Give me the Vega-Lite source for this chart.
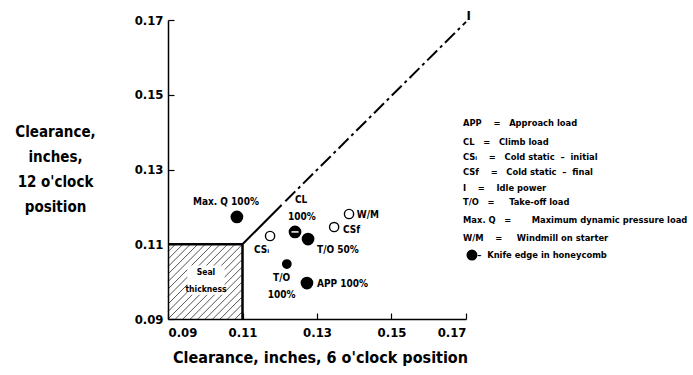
{
  "$schema": "https://vega.github.io/schema/vega-lite/v6.json",
  "autosize": "none",
  "width": 298,
  "height": 299,
  "padding": {"left": 168, "top": 20, "right": 227, "bottom": 56},
  "background": "white",
  "config": {
    "view": {"stroke": null},
    "font": "DejaVu Sans Condensed",
    "point": {"opacity": 1},
    "axis": {
      "grid": false,
      "domainColor": "black",
      "domainWidth": 1.5,
      "tickColor": "black",
      "tickWidth": 1.2,
      "tickSize": -6,
      "labelFont": "DejaVu Sans Condensed",
      "labelFontWeight": "bold",
      "labelFontSize": 13,
      "labelColor": "black",
      "titleFont": "DejaVu Sans Condensed",
      "titleFontWeight": "bold",
      "titleFontSize": 15,
      "titleColor": "black"
    }
  },
  "datasets": {
    "hatch": [
      {"x": 0.108, "y": 0.09, "x2": 0.11, "y2": 0.092},
      {"x": 0.106, "y": 0.09, "x2": 0.11, "y2": 0.094},
      {"x": 0.104, "y": 0.09, "x2": 0.11, "y2": 0.096},
      {"x": 0.102, "y": 0.09, "x2": 0.11, "y2": 0.098},
      {"x": 0.100, "y": 0.09, "x2": 0.11, "y2": 0.100},
      {"x": 0.098, "y": 0.09, "x2": 0.11, "y2": 0.102},
      {"x": 0.096, "y": 0.09, "x2": 0.11, "y2": 0.104},
      {"x": 0.094, "y": 0.09, "x2": 0.11, "y2": 0.106},
      {"x": 0.092, "y": 0.09, "x2": 0.11, "y2": 0.108},
      {"x": 0.090, "y": 0.09, "x2": 0.11, "y2": 0.110},
      {"x": 0.09, "y": 0.092, "x2": 0.108, "y2": 0.11},
      {"x": 0.09, "y": 0.094, "x2": 0.106, "y2": 0.11},
      {"x": 0.09, "y": 0.096, "x2": 0.104, "y2": 0.11},
      {"x": 0.09, "y": 0.098, "x2": 0.102, "y2": 0.11},
      {"x": 0.09, "y": 0.100, "x2": 0.100, "y2": 0.11},
      {"x": 0.09, "y": 0.102, "x2": 0.098, "y2": 0.11},
      {"x": 0.09, "y": 0.104, "x2": 0.096, "y2": 0.11},
      {"x": 0.09, "y": 0.106, "x2": 0.094, "y2": 0.11},
      {"x": 0.09, "y": 0.108, "x2": 0.092, "y2": 0.11}
    ],
    "sealbg": [
      {"x": 0.0952, "y": 0.0965, "x2": 0.1052, "y2": 0.1043}
    ],
    "box": [
      {"x": 0.09, "y": 0.11, "x2": 0.11, "y2": 0.11},
      {"x": 0.11, "y": 0.09, "x2": 0.11, "y2": 0.11}
    ],
    "diagSolid": [
      {"x": 0.11, "y": 0.11, "x2": 0.1205, "y2": 0.1205}
    ],
    "diagDash": [
      {"x": 0.1215, "y": 0.1215, "x2": 0.17, "y2": 0.1695}
    ],
    "points": [
      {"label": "Max. Q 100%", "x": 0.1085, "y": 0.1173, "kind": "knife"},
      {"label": "CL 100%", "x": 0.1241, "y": 0.1133, "kind": "knife"},
      {"label": "T/O 50%", "x": 0.1276, "y": 0.1114, "kind": "knife"},
      {"label": "CSi", "x": 0.1174, "y": 0.1122, "kind": "open"},
      {"label": "CSf", "x": 0.1346, "y": 0.1146, "kind": "open"},
      {"label": "W/M", "x": 0.1386, "y": 0.1181, "kind": "open"},
      {"label": "T/O 100%", "x": 0.1219, "y": 0.1047, "kind": "knife-small"},
      {"label": "APP 100%", "x": 0.1273, "y": 0.0996, "kind": "knife"}
    ],
    "labels": [
      {"text": "Max. Q 100%", "x": 0.0967, "y": 0.1213},
      {"text": "CL", "x": 0.1241, "y": 0.1218},
      {"text": "100%", "x": 0.1222, "y": 0.1173},
      {"text": "CSᵢ", "x": 0.1131, "y": 0.1085},
      {"text": "T/O 50%", "x": 0.1300, "y": 0.1085},
      {"text": "W/M", "x": 0.1407, "y": 0.1178},
      {"text": "CSf", "x": 0.1370, "y": 0.1138},
      {"text": "T/O", "x": 0.1182, "y": 0.1010},
      {"text": "100%", "x": 0.1168, "y": 0.0964},
      {"text": "APP 100%", "x": 0.1300, "y": 0.0994}
    ],
    "seal": [
      {"text": "Seal", "x": 0.1002, "y": 0.1026},
      {"text": "thickness", "x": 0.1002, "y": 0.0980}
    ],
    "legend": [
      {"text": "APP\u00a0\u00a0\u00a0\u00a0=\u00a0\u00a0\u00a0Approach load", "y": 0.1424},
      {"text": "CL\u00a0\u00a0\u00a0=\u00a0\u00a0\u00a0Climb load", "y": 0.1374},
      {"text": "CSᵢ\u00a0\u00a0\u00a0\u00a0=\u00a0\u00a0\u00a0Cold static\u00a0\u00a0–\u00a0\u00a0initial", "y": 0.1333},
      {"text": "CSf\u00a0\u00a0\u00a0\u00a0=\u00a0\u00a0\u00a0Cold static\u00a0\u00a0–\u00a0\u00a0final", "y": 0.1293},
      {"text": "I\u00a0\u00a0\u00a0\u00a0=\u00a0\u00a0\u00a0\u00a0Idle power", "y": 0.1250},
      {"text": "T/O\u00a0\u00a0\u00a0=\u00a0\u00a0\u00a0\u00a0\u00a0Take-off load", "y": 0.1213},
      {"text": "Max. Q\u00a0\u00a0\u00a0=\u00a0\u00a0\u00a0\u00a0\u00a0\u00a0\u00a0Maximum dynamic pressure load", "y": 0.1165},
      {"text": "W/M\u00a0\u00a0\u00a0\u00a0=\u00a0\u00a0\u00a0\u00a0\u00a0Windmill on starter", "y": 0.1117}
    ],
    "legendKnife": [
      {"text": "–\u00a0\u00a0Knife edge in honeycomb", "x": 0.1730, "y": 0.1071}
    ],
    "legendDot": [
      {"x": 0.1716, "y": 0.1071}
    ],
    "idle": [
      {"text": "I", "x": 0.1707, "y": 0.1712}
    ]
  },
  "layer": [
    {
      "data": {"name": "hatch"},
      "mark": {"type": "rule", "stroke": "black", "strokeWidth": 0.9, "opacity": 0.75},
      "encoding": {
        "x": {
          "field": "x", "type": "quantitative",
          "scale": {"domain": [0.09, 0.17], "nice": false, "zero": false},
          "axis": {
            "values": [0.09, 0.11, 0.13, 0.15, 0.17],
            "format": ".2f",
            "labelPadding": 13,
            "title": "Clearance, inches, 6 o'clock position",
            "titleX": 152,
            "titleY": 38,
            "titleBaseline": "middle",
            "titleFontSize": 16
          }
        },
        "y": {
          "field": "y", "type": "quantitative",
          "scale": {"domain": [0.09, 0.17], "nice": false, "zero": false},
          "axis": {
            "values": [0.09, 0.11, 0.13, 0.15, 0.17],
            "format": ".2f",
            "labelPadding": 11,
            "title": ["Clearance,", "inches,", "12 o'clock", "position"],
            "titleAngle": 0,
            "titleAlign": "center",
            "titleBaseline": "top",
            "titleLineHeight": 25,
            "titleX": -113,
            "titleY": 104
          }
        },
        "x2": {"field": "x2"},
        "y2": {"field": "y2"}
      }
    },
    {
      "data": {"name": "sealbg"},
      "mark": {"type": "rect", "fill": "white"},
      "encoding": {
        "x": {"field": "x", "type": "quantitative"},
        "y": {"field": "y", "type": "quantitative"},
        "x2": {"field": "x2"},
        "y2": {"field": "y2"}
      }
    },
    {
      "data": {"name": "box"},
      "mark": {"type": "rule", "stroke": "black", "strokeWidth": 2.5},
      "encoding": {
        "x": {"field": "x", "type": "quantitative"},
        "y": {"field": "y", "type": "quantitative"},
        "x2": {"field": "x2"},
        "y2": {"field": "y2"}
      }
    },
    {
      "data": {"name": "diagSolid"},
      "mark": {"type": "rule", "stroke": "black", "strokeWidth": 2},
      "encoding": {
        "x": {"field": "x", "type": "quantitative"},
        "y": {"field": "y", "type": "quantitative"},
        "x2": {"field": "x2"},
        "y2": {"field": "y2"}
      }
    },
    {
      "data": {"name": "diagDash"},
      "mark": {"type": "rule", "stroke": "black", "strokeWidth": 2, "strokeDash": [14, 4, 3, 4]},
      "encoding": {
        "x": {"field": "x", "type": "quantitative"},
        "y": {"field": "y", "type": "quantitative"},
        "x2": {"field": "x2"},
        "y2": {"field": "y2"}
      }
    },
    {
      "data": {"name": "points"},
      "transform": [{"filter": "datum.kind === 'knife'"}],
      "mark": {"type": "point", "shape": "circle", "filled": true, "fill": "black", "stroke": "black", "opacity": 1, "size": 115},
      "encoding": {
        "x": {"field": "x", "type": "quantitative"},
        "y": {"field": "y", "type": "quantitative"}
      }
    },
    {
      "data": {"name": "points"},
      "transform": [{"filter": "datum.kind === 'knife-small'"}],
      "mark": {"type": "point", "shape": "circle", "filled": true, "fill": "black", "stroke": "black", "opacity": 1, "size": 60},
      "encoding": {
        "x": {"field": "x", "type": "quantitative"},
        "y": {"field": "y", "type": "quantitative"}
      }
    },
    {
      "data": {"name": "points"},
      "transform": [{"filter": "datum.kind === 'open'"}],
      "mark": {"type": "point", "shape": "circle", "filled": false, "fill": "white", "stroke": "black", "strokeWidth": 1.4, "opacity": 1, "size": 85},
      "encoding": {
        "x": {"field": "x", "type": "quantitative"},
        "y": {"field": "y", "type": "quantitative"}
      }
    },
    {
      "data": {"name": "points"},
      "transform": [{"filter": "datum.label === 'CL 100%'"}],
      "mark": {"type": "point", "shape": "stroke", "stroke": "white", "strokeWidth": 1.5, "opacity": 1, "size": 50},
      "encoding": {
        "x": {"field": "x", "type": "quantitative"},
        "y": {"field": "y", "type": "quantitative"}
      }
    },
    {
      "data": {"name": "labels"},
      "mark": {"type": "text", "align": "left", "baseline": "middle", "font": "DejaVu Sans Condensed", "fontWeight": "bold", "fontSize": 10, "color": "black"},
      "encoding": {
        "x": {"field": "x", "type": "quantitative"},
        "y": {"field": "y", "type": "quantitative"},
        "text": {"field": "text"}
      }
    },
    {
      "data": {"name": "seal"},
      "mark": {"type": "text", "align": "center", "baseline": "middle", "font": "DejaVu Sans Condensed", "fontWeight": "bold", "fontSize": 8.5, "color": "black"},
      "encoding": {
        "x": {"field": "x", "type": "quantitative"},
        "y": {"field": "y", "type": "quantitative"},
        "text": {"field": "text"}
      }
    },
    {
      "data": {"name": "legend"},
      "mark": {"type": "text", "align": "left", "baseline": "middle", "font": "DejaVu Sans Condensed", "fontWeight": "bold", "fontSize": 9.3, "color": "black"},
      "encoding": {
        "x": {"datum": 0.1692, "type": "quantitative"},
        "y": {"field": "y", "type": "quantitative"},
        "text": {"field": "text"}
      }
    },
    {
      "data": {"name": "legendKnife"},
      "mark": {"type": "text", "align": "left", "baseline": "middle", "font": "DejaVu Sans Condensed", "fontWeight": "bold", "fontSize": 9.3, "color": "black"},
      "encoding": {
        "x": {"field": "x", "type": "quantitative"},
        "y": {"field": "y", "type": "quantitative"},
        "text": {"field": "text"}
      }
    },
    {
      "data": {"name": "legendDot"},
      "mark": {"type": "point", "shape": "circle", "filled": true, "fill": "black", "stroke": "black", "opacity": 1, "size": 80},
      "encoding": {
        "x": {"field": "x", "type": "quantitative"},
        "y": {"field": "y", "type": "quantitative"}
      }
    },
    {
      "data": {"name": "idle"},
      "mark": {"type": "text", "align": "center", "baseline": "middle", "font": "DejaVu Sans Condensed", "fontWeight": "bold", "fontSize": 13, "color": "black"},
      "encoding": {
        "x": {"field": "x", "type": "quantitative"},
        "y": {"field": "y", "type": "quantitative"},
        "text": {"field": "text"}
      }
    }
  ]
}
